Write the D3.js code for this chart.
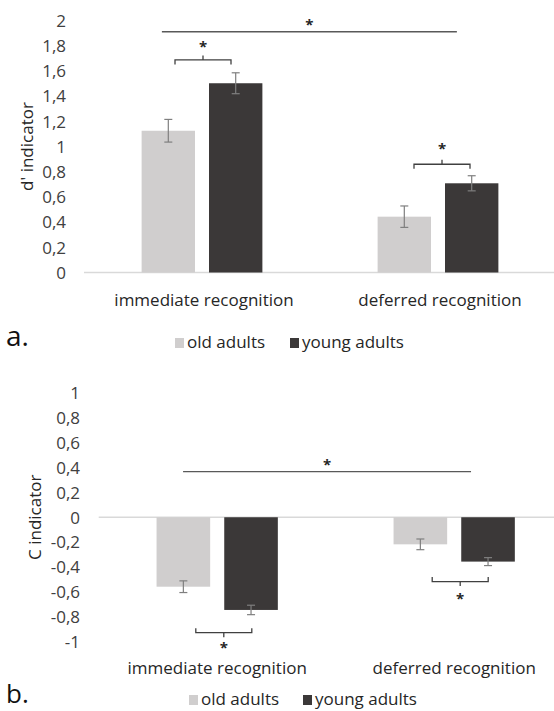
<!DOCTYPE html>
<html>
<head>
<meta charset="utf-8">
<script src="https://cdn.jsdelivr.net/npm/d3@7"></script>
<style>
  html, body { margin: 0; padding: 0; background: #fff; }
  svg { display: block; font-family: "Open Sans", sans-serif; }
</style>
</head>
<body>
<svg id="chart" width="554" height="711"></svg>
<script>
// ---------- data ----------
const categories = ["immediate recognition", "deferred recognition"];
const series = ["old adults", "young adults"];
const seriesColors = ["#d0cece", "#3b3838"];

// panel a: d' indicator
const dOld = [1.125, 0.443];
const dOldErr = [0.09, 0.085];
const dYoung = [1.502, 0.708];
const dYoungErr = [0.083, 0.06];
const dTicks = [0, 0.2, 0.4, 0.6, 0.8, 1, 1.2, 1.4, 1.6, 1.8, 2];

// panel b: C indicator
const cOld = [-0.559, -0.218];
const cOldErr = [0.047, 0.043];
const cYoung = [-0.746, -0.357];
const cYoungErr = [0.038, 0.032];
const cTicks = [-1, -0.8, -0.6, -0.4, -0.2, 0, 0.2, 0.4, 0.6, 0.8, 1];

// significance annotations (value positions)
const dSigLineValue = 1.911;
const dBracketValues = [1.687, 0.859];
const cSigLineValue = 0.367;
const cBracketValues = [-0.929, -0.518];

const svg = d3.select("#chart");
const fmt = v => (Math.abs(v) < 1e-9 ? "0" : String(+v.toFixed(1)).replace(".", ","));

function panel(cfg) {
  const g = svg.append("g");
  const x = d3.scaleBand().domain(categories).range(cfg.xRange);
  const inner = d3.scaleBand().domain(series).range([0, x.bandwidth()])
    .paddingInner(0.208).paddingOuter(0.855);
  const y = d3.scaleLinear().domain(cfg.yDomain).range(cfg.yRange);

  // y axis: labels only
  const yAxis = d3.axisLeft(y).tickValues(cfg.ticks).tickFormat(fmt).tickSize(0).tickPadding(0);
  const ya = g.append("g").attr("transform", `translate(${cfg.tickX},0)`).call(yAxis);
  ya.select(".domain").remove();
  ya.selectAll("text").attr("font-size", 17).attr("fill", "#404040")
    .attr("font-family", "Open Sans").attr("dy", "0.34em");

  // y title
  g.append("text")
    .attr("transform", `translate(${cfg.titleX},${(cfg.yRange[0] + cfg.yRange[1]) / 2}) rotate(-90)`)
    .attr("text-anchor", "middle").attr("dy", "0.35em")
    .attr("font-size", 17).attr("fill", "#262626").text(cfg.title);

  // baseline
  g.append("line")
    .attr("x1", cfg.xRange[0]).attr("x2", 554)
    .attr("y1", y(0)).attr("y2", y(0))
    .attr("stroke", "#d9d9d9").attr("stroke-width", 1.3);

  const rows = [];
  categories.forEach((c, i) => {
    rows.push({ cat: c, s: series[0], v: cfg.old[i], e: cfg.oldErr[i] });
    rows.push({ cat: c, s: series[1], v: cfg.young[i], e: cfg.youngErr[i] });
  });

  g.selectAll("rect.bar").data(rows).join("rect")
    .attr("class", "bar")
    .attr("x", d => x(d.cat) + inner(d.s))
    .attr("width", inner.bandwidth())
    .attr("y", d => Math.min(y(0), y(d.v)))
    .attr("height", d => Math.abs(y(d.v) - y(0)))
    .attr("fill", d => seriesColors[series.indexOf(d.s)]);

  // error bars
  const eb = g.selectAll("g.err").data(rows).join("g").attr("class", "err")
    .attr("stroke", "#7f7f7f").attr("stroke-width", 1.2);
  const cx = d => x(d.cat) + inner(d.s) + inner.bandwidth() / 2;
  eb.append("line").attr("x1", cx).attr("x2", cx)
    .attr("y1", d => y(d.v + d.e)).attr("y2", d => y(d.v - d.e));
  eb.append("line").attr("x1", d => cx(d) - 4).attr("x2", d => cx(d) + 4)
    .attr("y1", d => y(d.v + d.e)).attr("y2", d => y(d.v + d.e));
  eb.append("line").attr("x1", d => cx(d) - 4).attr("x2", d => cx(d) + 4)
    .attr("y1", d => y(d.v - d.e)).attr("y2", d => y(d.v - d.e));

  // category labels
  g.selectAll("text.cat").data(categories).join("text")
    .attr("class", "cat")
    .attr("x", c => x(c) + x.bandwidth() / 2 + cfg.catShift)
    .attr("y", cfg.catY)
    .attr("text-anchor", "middle").attr("font-size", 17).attr("fill", "#262626")
    .text(c => c);

  // overall significance line
  const sx1 = x(categories[0]) + x.bandwidth() * cfg.sigFrac[0];
  const sx2 = x(categories[1]) + x.bandwidth() * cfg.sigFrac[1];
  const sy = y(cfg.sigValue);
  g.append("line").attr("x1", sx1).attr("x2", sx2).attr("y1", sy).attr("y2", sy)
    .attr("stroke", "#595959").attr("stroke-width", 1.4);
  g.append("text").attr("x", (sx1 + sx2) / 2).attr("y", sy - 10 + 8)
    .attr("text-anchor", "middle").attr("font-size", 15).attr("font-weight", "bold")
    .attr("fill", "#262626").text("*");

  // brackets
  categories.forEach((c, i) => {
    const mid = x(c) + x.bandwidth() / 2 + cfg.bracketShift[i];
    const by = y(cfg.bracketValues[i]);
    const dir = cfg.bracketDir;
    const h = 4.5 * dir * -1;
    const path = d3.path();
    path.moveTo(mid - 28, by + h);
    path.lineTo(mid - 28, by);
    path.lineTo(mid + 28, by);
    path.lineTo(mid + 28, by + h);
    path.moveTo(mid, by);
    path.lineTo(mid, by - h);
    g.append("path").attr("d", path.toString()).attr("fill", "none")
      .attr("stroke", "#404040").attr("stroke-width", 1.3);
    const starCenter = by + dir * cfg.starGap[i];
    g.append("text").attr("x", mid).attr("y", starCenter + 8)
      .attr("text-anchor", "middle").attr("font-size", 15).attr("font-weight", "bold")
      .attr("fill", "#262626").text("*");
  });

  // panel letter
  g.append("text").attr("x", 6).attr("y", cfg.letterY)
    .attr("font-size", cfg.letterSize).attr("fill", "#111").text(cfg.letter);

  // legend
  series.forEach((s, i) => {
    g.append("rect").attr("x", cfg.legendX[i]).attr("y", cfg.legendY - 10)
      .attr("width", 9).attr("height", 10).attr("fill", seriesColors[i]);
    g.append("text").attr("x", cfg.legendX[i] + 12).attr("y", cfg.legendY)
      .attr("font-size", 17).attr("fill", "#262626").text(s);
  });
}

panel({
  xRange: [84, 556], yDomain: [0, 2], yRange: [272.5, 20.5], ticks: dTicks,
  tickX: 66, titleX: 27, title: "d' indicator",
  old: dOld, oldErr: dOldErr, young: dYoung, youngErr: dYoungErr,
  catY: 305.5, catShift: 2,
  sigValue: dSigLineValue, sigFrac: [0.33, 0.58],
  bracketValues: dBracketValues, bracketShift: [1, 4], bracketDir: -1, starGap: [16, 18],
  letter: "a.", letterY: 346, letterSize: 28,
  legendX: [175, 290], legendY: 348
});

panel({
  xRange: [98.7, 572.7], yDomain: [-1, 1], yRange: [641.5, 393], ticks: cTicks,
  tickX: 80, titleX: 35, title: "C indicator",
  old: cOld, oldErr: cOldErr, young: cYoung, youngErr: cYoungErr,
  catY: 673.5, catShift: 0,
  sigValue: cSigLineValue, sigFrac: [0.356, 0.571],
  bracketValues: cBracketValues, bracketShift: [6.6, 6], bracketDir: 1, starGap: [12, 14],
  letter: "b.", letterY: 703, letterSize: 26,
  legendX: [189, 303], legendY: 705
});
</script>
</body>
</html>
